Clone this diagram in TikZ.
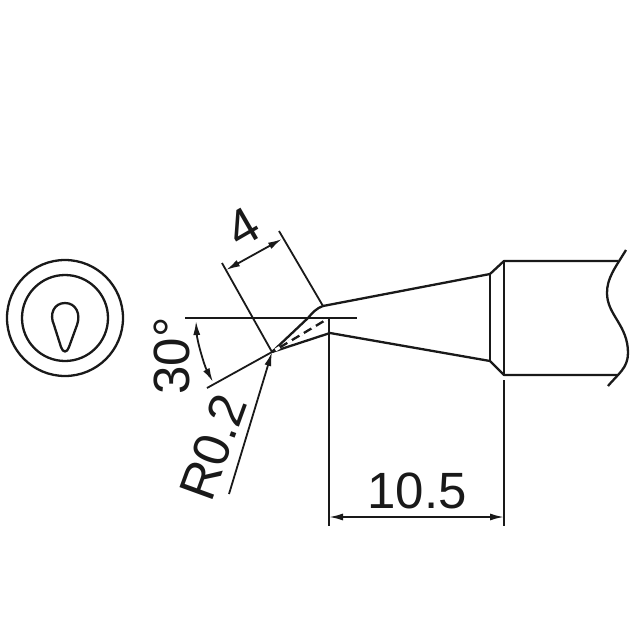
\documentclass[tikz,border=0pt]{standalone}
\usepackage{fontspec}
\setmainfont{Liberation Sans}
\usetikzlibrary{arrows.meta}
\tikzset{
  outline/.style={line width=2.3pt,black!90,line join=round},
  thin line/.style={line width=1.8pt,black!90},
  dim/.style={line width=1.8pt,black!90,{Latex[length=14pt,width=7pt]}-{Latex[length=14pt,width=7pt]}},
  lead/.style={line width=1.8pt,black!90,-{Latex[length=14pt,width=7pt]}},
  label/.style={inner sep=0pt,font=\fontsize{51}{51}\selectfont,text=black!90}
}
\begin{document}
\begin{tikzpicture}[x=1pt,y=-1pt]
\useasboundingbox (0,0) rectangle (640,640);
% end view
\draw[outline] (65,318) circle (58);
\draw[outline] (65,318) circle (43);
\draw[outline] (54,325) .. controls (49,314) and (54,303) .. (65,303)
  .. controls (76,303) and (81,314) .. (77,325)
  -- (69,347) .. controls (67,353) and (63,353) .. (61,347) -- cycle;
% tip outline
\coordinate (tip) at (272,352);
\coordinate (heel) at (323,306);
\coordinate (lowheel) at (330,333);
\coordinate (apex) at (329,318);
\draw[outline] (tip) -- (308,318) .. controls (313,312) and (317,308) .. (heel)
  -- (490,274) -- (504,261) -- (618,261);
\draw[outline] (tip) -- (lowheel) -- (490,361) -- (504,375) -- (618,375);
\draw[outline] (490,274) -- (490,361);
\draw[outline] (504,261) -- (504,375);
\draw[outline] (tip) -- (apex);
\draw[white,line width=3pt,dash pattern=on 5pt off 9pt,dash phase=-4pt] (tip) -- (apex);
\draw[outline] (626,250) .. controls (615,268) and (607,278) .. (607,293)
  .. controls (607,315) and (628,325) .. (628,353)
  .. controls (628,368) and (618,374) .. (608,386);
% extension lines
\draw[thin line] (222,263) -- (tip);
\draw[thin line] (279,231) -- (heel);
\draw[thin line] (185,318) -- (357,318);
\draw[thin line] (207,388) -- (tip);
\draw[thin line] (apex) -- (329,526);
\draw[thin line] (504,380) -- (504,526);
% dimensions
\draw[dim] (226,270) -- (282,239);
\draw[dim] (196,321) .. controls (197,340) and (204,365) .. (213,382);
\draw[lead] (229,494) -- (tip);
\draw[dim] (329,517) -- (504,517);
% labels
\node[label,rotate=30] (four) at (243,227) {4};
\node[label,rotate=90] (thirty) at (172,356) {30°};
\node[label,rotate=70] (radius) at (213,447) {R0.2};
\node[label] (length) at (417,491) {10.5};
\end{tikzpicture}
\end{document}
